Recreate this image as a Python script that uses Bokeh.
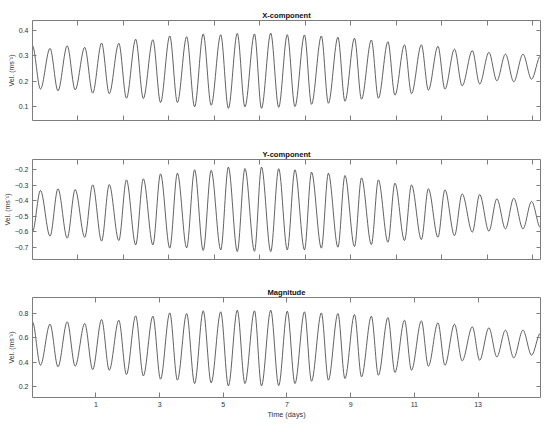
import numpy as np
from bokeh.plotting import figure
from bokeh.layouts import column
from bokeh.models import Range1d, LinearAxis, FixedTicker
from bokeh.embed import file_html
from bokeh.resources import INLINE

# ---------------- data ----------------
# times (days) of the record start, every successive turning point, and the record end
t_days = [-0.99, -0.74, -0.44, -0.19, 0.10, 0.35, 0.65, 0.90, 1.18, 1.42, 1.72, 1.96,
          2.25, 2.49, 2.79, 3.03, 3.32, 3.56, 3.85, 4.10, 4.37, 4.62, 4.92, 5.16,
          5.44, 5.68, 5.98, 6.20, 6.49, 6.74, 7.01, 7.25, 7.55, 7.77, 8.08, 8.30,
          8.60, 8.82, 9.12, 9.34, 9.65, 9.87, 10.17, 10.39, 10.69, 10.91, 11.22, 11.44,
          11.74, 11.96, 12.26, 12.50, 12.82, 13.05, 13.34, 13.59, 13.86, 14.12, 14.41,
          14.68, 14.96]

x_component = [0.34, 0.169, 0.33, 0.162, 0.34, 0.166, 0.334, 0.153, 0.351, 0.151, 0.35, 0.133,
               0.366, 0.132, 0.364, 0.116, 0.379, 0.116, 0.376, 0.099, 0.387, 0.105, 0.384, 0.093,
               0.389, 0.099, 0.387, 0.093, 0.39, 0.097, 0.384, 0.10, 0.383, 0.109, 0.379, 0.113,
               0.374, 0.121, 0.37, 0.129, 0.363, 0.133, 0.356, 0.145, 0.344, 0.151, 0.344, 0.165,
               0.338, 0.169, 0.327, 0.182, 0.321, 0.189, 0.314, 0.202, 0.307, 0.198, 0.307,
               0.208, 0.30]

y_component = [-0.60, -0.335, -0.629, -0.324, -0.642, -0.329, -0.636, -0.299, -0.661, -0.297, -0.657, -0.267,
               -0.685, -0.26, -0.685, -0.228, -0.706, -0.224, -0.704, -0.202, -0.721, -0.206, -0.717, -0.185,
               -0.728, -0.194, -0.726, -0.185, -0.728, -0.195, -0.717, -0.202, -0.717, -0.217, -0.706, -0.224,
               -0.70, -0.239, -0.696, -0.254, -0.683, -0.267, -0.668, -0.288, -0.657, -0.299, -0.651, -0.324,
               -0.636, -0.331, -0.625, -0.357, -0.603, -0.361, -0.597, -0.389, -0.582, -0.385, -0.582,
               -0.406, -0.575]

magnitude = [0.73, 0.377, 0.713, 0.364, 0.732, 0.369, 0.718, 0.342, 0.751, 0.336, 0.745, 0.301,
             0.781, 0.29, 0.778, 0.263, 0.805, 0.255, 0.80, 0.227, 0.822, 0.233, 0.814, 0.208,
             0.827, 0.227, 0.822, 0.208, 0.827, 0.21, 0.819, 0.227, 0.814, 0.246, 0.805, 0.255,
             0.80, 0.268, 0.792, 0.282, 0.778, 0.295, 0.767, 0.317, 0.745, 0.336, 0.74, 0.369,
             0.724, 0.377, 0.713, 0.413, 0.691, 0.418, 0.683, 0.445, 0.664, 0.437, 0.664,
             0.459, 0.64]

titles = ["X-component", "Y-component", "Magnitude"]
y_label = "Vel. (ms\u207b\u00b9)"
x_label = "Time (days)"

x_limits = (-0.99, 14.96)
y_limits = [(0.045, 0.44), (-0.779, -0.136), (0.113, 0.931)]
y_ticks = [[0.1, 0.2, 0.3, 0.4],
           [-0.7, -0.6, -0.5, -0.4, -0.3, -0.2],
           [0.2, 0.4, 0.6, 0.8]]
day_ticks = [1, 3, 5, 7, 9, 11, 13]
# unlabeled ticks of the two upper panels (sample-index ticks, expressed in days)
sample_ticks = [0.435, 1.863, 3.291, 4.719, 6.147, 7.575, 9.003, 10.431, 11.859, 13.287, 14.715]

# ---------------- styling ----------------
FONT = "Liberation Sans"
AXC = "#7d7d7d"
TXT = "#333333"
LINE = "#3a3a3a"


def make_axis(ticks, tick_in, labels):
    ax = LinearAxis(ticker=FixedTicker(ticks=ticks, minor_ticks=[]))
    ax.axis_line_color = AXC
    ax.axis_line_width = 1
    ax.major_tick_line_color = AXC
    ax.major_tick_line_width = 1
    ax.major_tick_in = tick_in
    ax.major_tick_out = 0
    ax.minor_tick_in = 0
    ax.minor_tick_out = 0
    if labels:
        ax.major_label_text_font = FONT
        ax.major_label_text_font_size = "7px"
        ax.major_label_text_color = TXT
        ax.major_label_standoff = 4
    else:
        ax.major_label_text_font_size = "0px"
        ax.major_label_text_color = None
        ax.major_label_standoff = 0
    return ax


def make_panel(idx, vals, xticks, b_top, b_bottom, with_xlabels):
    p = figure(frame_width=508, frame_height=100,
               x_range=Range1d(*x_limits), y_range=Range1d(*y_limits[idx]),
               output_backend="svg", toolbar_location=None,
               x_axis_location=None, y_axis_location=None,
               min_border_left=32, min_border_right=8,
               min_border_top=b_top, min_border_bottom=b_bottom)
    p.outline_line_color = None
    p.xgrid.visible = False
    p.ygrid.visible = False
    p.background_fill_color = "white"
    p.border_fill_color = "white"

    p.title.text = titles[idx]
    p.title.align = "center"
    p.title.text_font = FONT
    p.title.text_font_size = "7.6px"
    p.title.text_font_style = "bold"
    p.title.text_color = "#111111"
    if "standoff" in p.title.properties():
        p.title.standoff = 2

    left = make_axis(y_ticks[idx], 4, True)
    left.axis_label = y_label
    left.axis_label_text_font = FONT
    left.axis_label_text_font_size = "7px"
    left.axis_label_text_font_style = "normal"
    left.axis_label_text_color = TXT
    left.axis_label_standoff = 1
    right = make_axis(y_ticks[idx], 4, False)
    below = make_axis(xticks, 5, with_xlabels)
    above = make_axis(xticks, 5, False)
    if with_xlabels:
        below.axis_label = x_label
        below.axis_label_text_font = FONT
        below.axis_label_text_font_size = "7.3px"
        below.axis_label_text_font_style = "normal"
        below.axis_label_text_color = TXT
        below.axis_label_standoff = 0
    p.add_layout(left, "left")
    p.add_layout(right, "right")
    p.add_layout(below, "below")
    p.add_layout(above, "above")

    t = np.asarray(t_days, dtype=float)
    v = np.asarray(vals, dtype=float)
    dt = t[1:] - t[:-1]
    p.bezier(x0=t[:-1], y0=v[:-1], x1=t[1:], y1=v[1:],
             cx0=t[:-1] + dt / 3.0, cy0=v[:-1],
             cx1=t[1:] - dt / 3.0, cy1=v[1:],
             line_color=LINE, line_width=0.8)
    return p


p1 = make_panel(0, x_component, sample_ticks, 20, 19, False)
p2 = make_panel(1, y_component, sample_ticks, 20, 19, False)
p3 = make_panel(2, magnitude, day_ticks, 19, 22, True)

layout = column(p1, p2, p3, spacing=0)
open("out.html", "w").write(file_html(layout, INLINE))
